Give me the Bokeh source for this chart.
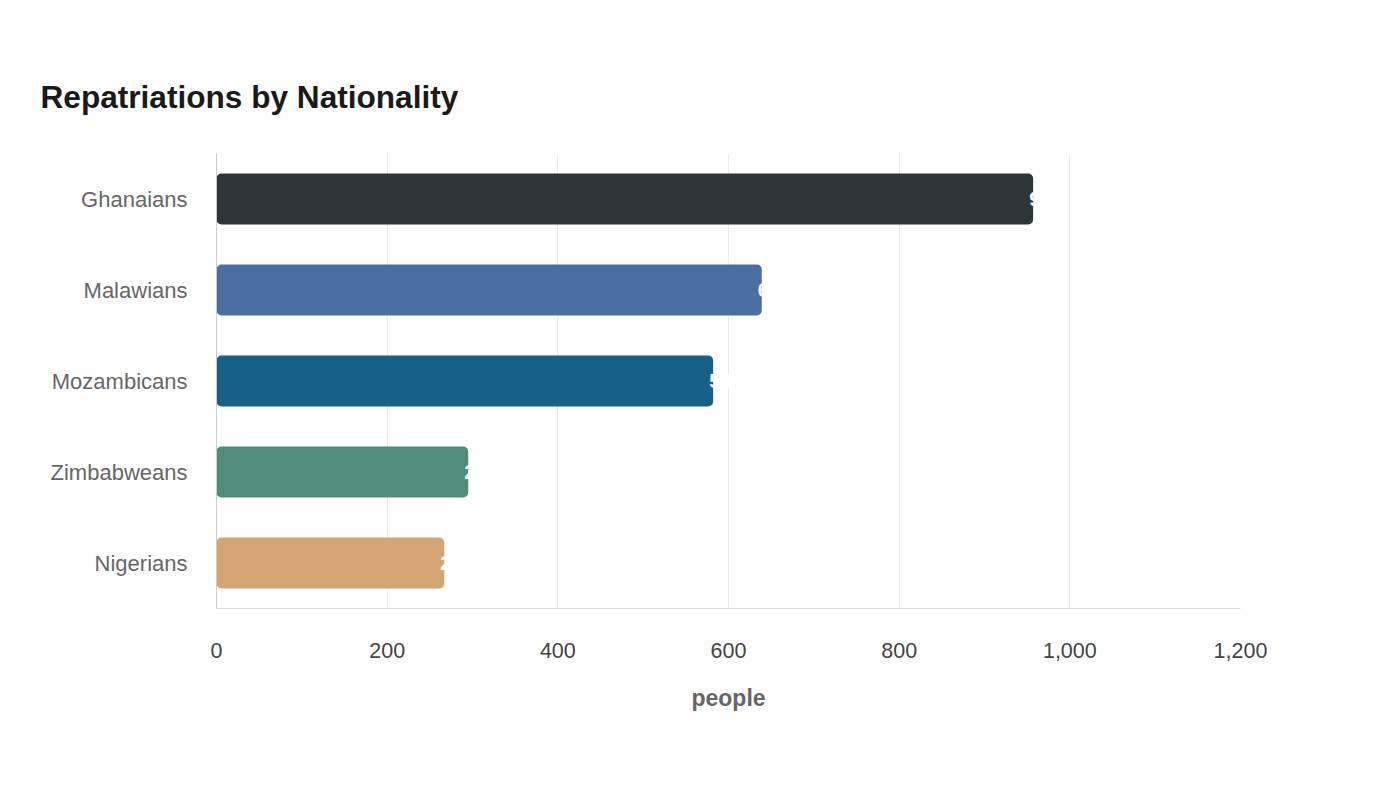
from bokeh.plotting import figure
from bokeh.models import ColumnDataSource, FactorRange, Range1d, NumeralTickFormatter, FixedTicker
from bokeh.core.properties import value
from bokeh.embed import file_html
from bokeh.resources import INLINE

categories = ["Ghanaians", "Malawians", "Mozambicans", "Zimbabweans", "Nigerians"]
people = [957, 639, 582, 295, 267]
colors = ["#2d3538", "#4a6fa5", "#176087", "#4f8c7a", "#d4a574"]
x_ticks = [0, 200, 400, 600, 800, 1000, 1200]

FONT = "Liberation Sans"

src = ColumnDataSource(dict(cat=categories, val=people, color=colors,
                            label=[str(v) for v in people]))

p = figure(width=1400, height=800, output_backend="svg", toolbar_location=None,
           y_range=FactorRange(factors=list(reversed(categories)), range_padding=0),
           x_range=Range1d(0, 1200),
           min_border_left=216, min_border_right=160, min_border_top=153, min_border_bottom=192)

p.hbar(y="cat", right="val", left=0, height=0.56, color="color", source=src,
       line_color=None, border_radius=5)
p.text(x="val", y="cat", text="label", source=src, x_offset=-4,
       text_align="left", text_baseline="middle", text_color="white",
       text_font=value(FONT), text_font_style="bold", text_font_size="20px")

p.title.text = "Repatriations by Nationality"
p.title.text_font = FONT
p.title.text_font_size = "31.6px"
p.title.text_color = "#1a1a1a"
p.title.align = "left"
p.title.offset = -176
p.title.standoff = 78

p.outline_line_color = None
p.background_fill_color = "white"
p.border_fill_color = "white"

p.xaxis.ticker = FixedTicker(ticks=x_ticks)
p.xaxis.formatter = NumeralTickFormatter(format="0,0")
p.xaxis.axis_line_color = "#dddddd"
p.xaxis.major_tick_line_color = None
p.xaxis.minor_tick_line_color = None
p.xaxis.major_label_text_font = FONT
p.xaxis.major_label_text_font_size = "21.5px"
p.xaxis.major_label_text_color = "#444444"
p.xaxis.major_label_standoff = 28
p.xaxis.axis_label = "people"
p.xaxis.axis_label_text_font = FONT
p.xaxis.axis_label_text_font_size = "23px"
p.xaxis.axis_label_text_font_style = "bold"
p.xaxis.axis_label_text_color = "#666666"
p.xaxis.axis_label_standoff = 24

p.yaxis.axis_line_color = "#cccccc"
p.yaxis.major_tick_line_color = None
p.yaxis.minor_tick_line_color = None
p.yaxis.major_label_text_font = FONT
p.yaxis.major_label_text_font_size = "22px"
p.yaxis.major_label_text_color = "#666666"
p.yaxis.major_label_standoff = 23

p.ygrid.grid_line_color = None
p.xgrid.grid_line_color = "#ebebeb"
p.xgrid.grid_line_width = 1

open("out.html", "w").write(file_html(p, INLINE))
